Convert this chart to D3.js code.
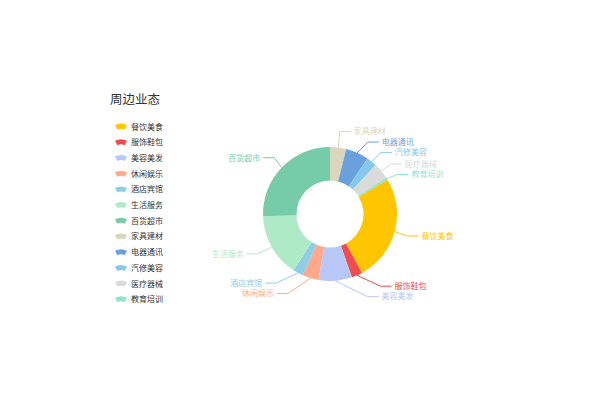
<!DOCTYPE html>
<html>
<head>
<meta charset="utf-8">
<script src="https://cdn.jsdelivr.net/npm/d3@7"></script>
<style>
  html, body { margin: 0; background: #fff; }
  svg { display: block; }
  text { font-family: "Noto Sans CJK SC", "Noto Sans", sans-serif; }
</style>
</head>
<body>
<svg id="chart" width="600" height="400"></svg>
<script>
const title = "周边业态"

const categories = ["餐饮美食", "服饰鞋包", "美容美发", "休闲娱乐", "酒店宾馆", "生活服务",
  "百货超市", "家具建材", "电器通讯", "汽修美容", "医疗器械", "教育培训"]

const values = [185, 19, 58, 28, 18, 110, 184, 28, 40, 18, 28, 4]

const colors = ["#ffc600", "#f04b4e", "#b7c7f7", "#ffa98c", "#8fcde6", "#aeeac6",
  "#76cba9", "#dad6be", "#6aa0dc", "#86c8ea", "#dadada", "#92e3d4"]

// the slice that starts at twelve o'clock
const firstAtTop = "家具建材"

const cx = 330, cy = 214, R = 67, R0 = 33.5
const len1 = 14, len2 = 11, labelGap = 3, lineH = 10.5, fontSize = 8

const svg = d3.select("#chart")

const data = categories.map((name, i) => ({ name, value: values[i], color: colors[i] }))
const total = d3.sum(values)
const k = categories.indexOf(firstAtTop)
const offset = d3.sum(values.slice(k)) / total * 2 * Math.PI

const pie = d3.pie().sort(null).value(d => d.value)
  .startAngle(offset).endAngle(offset + 2 * Math.PI)
const arcs = pie(data)
const arc = d3.arc().innerRadius(R0).outerRadius(R)

svg.append("g")
  .attr("transform", `translate(${cx},${cy})`)
  .selectAll("path")
  .data(arcs)
  .join("path")
  .attr("d", arc)
  .attr("fill", d => d.data.color)

// labels, laid out roughly the way echarts does it
const labels = arcs.map(a => {
  const m = (a.startAngle + a.endAngle) / 2
  const s = Math.sin(m), c = -Math.cos(m)
  const dir = s < 0 ? -1 : 1
  return {
    d: a.data, dir,
    p1: [cx + R * s, cy + R * c],
    x: cx + (R + len1) * s + dir * (len2 + labelGap),
    y: cy + (R + len1) * c
  }
})

const adjustSide = (list) => {
  list.sort((a, b) => a.y - b.y)
  const shiftUp = (end, delta) => {
    for (let j = end; j >= 0; j--) {
      list[j].y -= delta
      if (j > 0 && list[j].y > list[j - 1].y + lineH) break
    }
  }
  const shiftDown = (start, end, delta) => {
    for (let j = start; j < end; j++) {
      list[j].y += delta
      if (j > start && j + 1 < end && list[j + 1].y > list[j].y + lineH) {
        shiftUp(j, delta / 2)
        return
      }
    }
    shiftUp(end - 1, delta / 2)
  }
  let lastY = -Infinity
  for (let i = 0; i < list.length; i++) {
    const delta = list[i].y - lastY
    if (delta < 0) shiftDown(i, list.length, -delta)
    lastY = list[i].y + lineH
  }
  list.forEach(it => {
    const dy = Math.abs(it.y - lineH / 2 - cy)
    if (dy < R + len1) {
      it.x = cx + it.dir * Math.sqrt((R + len1 + len2 + 1) ** 2 - dy * dy)
    }
  })
}

adjustSide(labels.filter(l => l.dir > 0))
adjustSide(labels.filter(l => l.dir < 0))

const labelG = svg.append("g")

labelG.selectAll("polyline")
  .data(labels)
  .join("polyline")
  .attr("fill", "none")
  .attr("stroke", d => d.d.color)
  .attr("stroke-width", 1)
  .attr("points", d => {
    const x3 = d.x - d.dir * labelGap
    const x2 = x3 - d.dir * len2
    return [d.p1, [x2, d.y], [x3, d.y]].map(p => p.join(",")).join(" ")
  })

labelG.selectAll("text")
  .data(labels)
  .join("text")
  .attr("x", d => d.x)
  .attr("y", d => d.y)
  .attr("dy", "0.35em")
  .attr("text-anchor", d => d.dir > 0 ? "start" : "end")
  .attr("font-size", fontSize)
  .attr("fill", d => d.d.color)
  .text(d => d.d.name)

// title
svg.append("text")
  .attr("x", 110)
  .attr("y", 100)
  .attr("dy", "0.35em")
  .attr("font-size", 12.5)
  .attr("fill", "#333")
  .text(title)

// legend
const iconArc = d3.arc()({ innerRadius: 8, outerRadius: 13, startAngle: -0.48, endAngle: 0.48 })

const legend = svg.append("g")
  .attr("transform", "translate(121,126.7)")
  .selectAll("g")
  .data(data)
  .join("g")
  .attr("transform", (d, i) => `translate(0,${i * 15.7})`)

legend.append("path")
  .attr("d", iconArc)
  .attr("transform", "translate(0,10)")
  .attr("fill", d => d.color)

legend.append("text")
  .attr("x", 10)
  .attr("dy", "0.35em")
  .attr("font-size", fontSize)
  .attr("fill", "#333")
  .text(d => d.name)
</script>
</body>
</html>
